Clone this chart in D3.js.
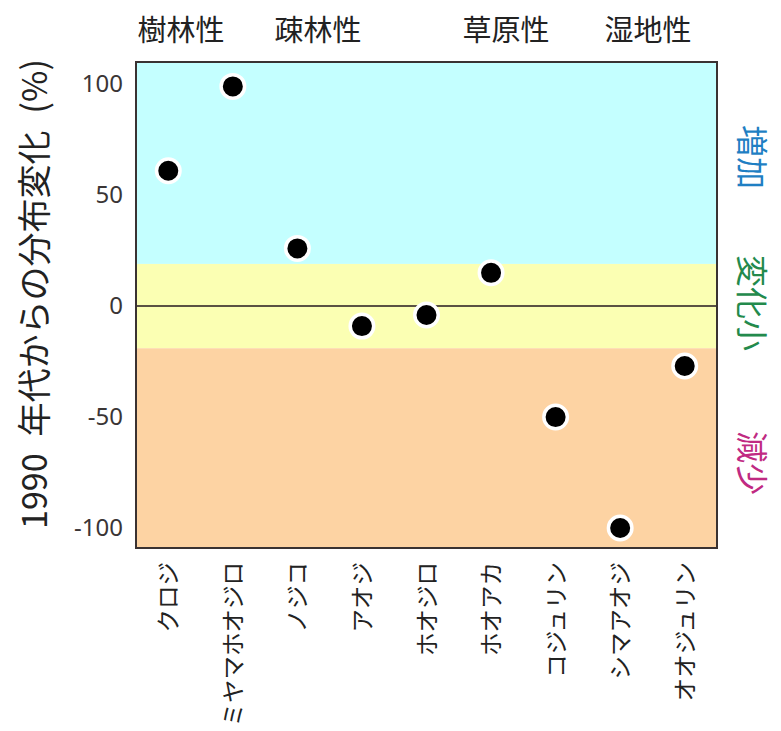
<!DOCTYPE html>
<html><head><meta charset="utf-8">
<script src="https://cdn.jsdelivr.net/npm/d3@7"></script>
<style>body{margin:0;background:#fff}text{font-family:"Noto Sans CJK JP","Noto Sans",sans-serif}</style>
</head><body>
<svg id="c" width="781" height="731"></svg>
<script>
const species = ["クロジ","ミヤマホオジロ","ノジコ","アオジ","ホオジロ","ホオアカ","コジュリン","シマアオジ","オオジュリン"];
const changes = [61, 99, 26, -9, -4, 15, -50, -100, -27];
const yTicks = [100, 50, 0, -50, -100];
const habitats = ["樹林性","疎林性","草原性","湿地性"];
const habitatX = [181, 318, 506, 648];
const zones = [
  {name:"増加", lo:19, hi:110, fill:"#c4ffff", color:"#1f7fc3", labelY:157},
  {name:"変化小", lo:-19, hi:19, fill:"#fbffb3", color:"#238a4c", labelY:303},
  {name:"減少", lo:-109, hi:-19, fill:"#fdd3a3", color:"#c02a82", labelY:463}
];

const svg = d3.select("#c");
const L=136, R=717, T=62, B=548;
const x = d3.scaleBand().domain(species).range([L,R]);
const y = d3.scaleLinear().domain([-109,110]).range([B,T]);

svg.selectAll("rect.zone").data(zones).join("rect")
  .attr("x",L).attr("width",R-L)
  .attr("y",d=>y(d.hi)).attr("height",d=>y(d.lo)-y(d.hi))
  .attr("fill",d=>d.fill);

svg.append("line").attr("x1",L).attr("x2",R).attr("y1",y(0)).attr("y2",y(0))
  .attr("stroke","#5a5243").attr("stroke-width",2);

svg.append("rect").attr("x",L).attr("y",T).attr("width",R-L).attr("height",B-T)
  .attr("fill","none").attr("stroke","#3a3232").attr("stroke-width",2);

const yAxis = svg.append("g").attr("transform",`translate(${L},0)`)
  .call(d3.axisLeft(y).tickValues(yTicks).tickSize(0).tickPadding(13)
    .tickFormat(d=>String(d)));
yAxis.select(".domain").remove();
yAxis.selectAll("text").attr("font-size",24).attr("fill","#3a3535")
  .style("font-family","'Noto Sans','Open Sans',sans-serif");

svg.selectAll("circle.pt").data(species).join("circle")
  .attr("cx",d=>x(d)+x.bandwidth()/2)
  .attr("cy",(d,i)=>y(changes[i]))
  .attr("r",11.75).attr("fill","#000").attr("stroke","#fff").attr("stroke-width",3.5);

svg.selectAll("text.xl").data(species).join("text")
  .attr("transform",d=>`translate(${x(d)+x.bandwidth()/2+9},562) rotate(-90)`)
  .attr("text-anchor","end").attr("font-size",23.5).attr("fill","#222")
  .text(d=>d);

svg.selectAll("text.hab").data(habitats).join("text")
  .attr("x",(d,i)=>habitatX[i]).attr("y",41)
  .attr("text-anchor","middle").attr("font-size",29).attr("fill","#222")
  .text(d=>d);

svg.selectAll("text.zl").data(zones).join("text")
  .attr("transform",d=>`translate(740,${d.labelY}) rotate(90)`)
  .attr("text-anchor","middle").attr("font-size",32).attr("fill",d=>d.color)
  .text(d=>d.name);

svg.append("text")
  .attr("transform","translate(47,294) rotate(-90)")
  .attr("text-anchor","middle").attr("font-size",34).attr("fill","#222")
  .text("1990\u2002年代からの分布変化\u2002(%)");
</script>
</body></html>
